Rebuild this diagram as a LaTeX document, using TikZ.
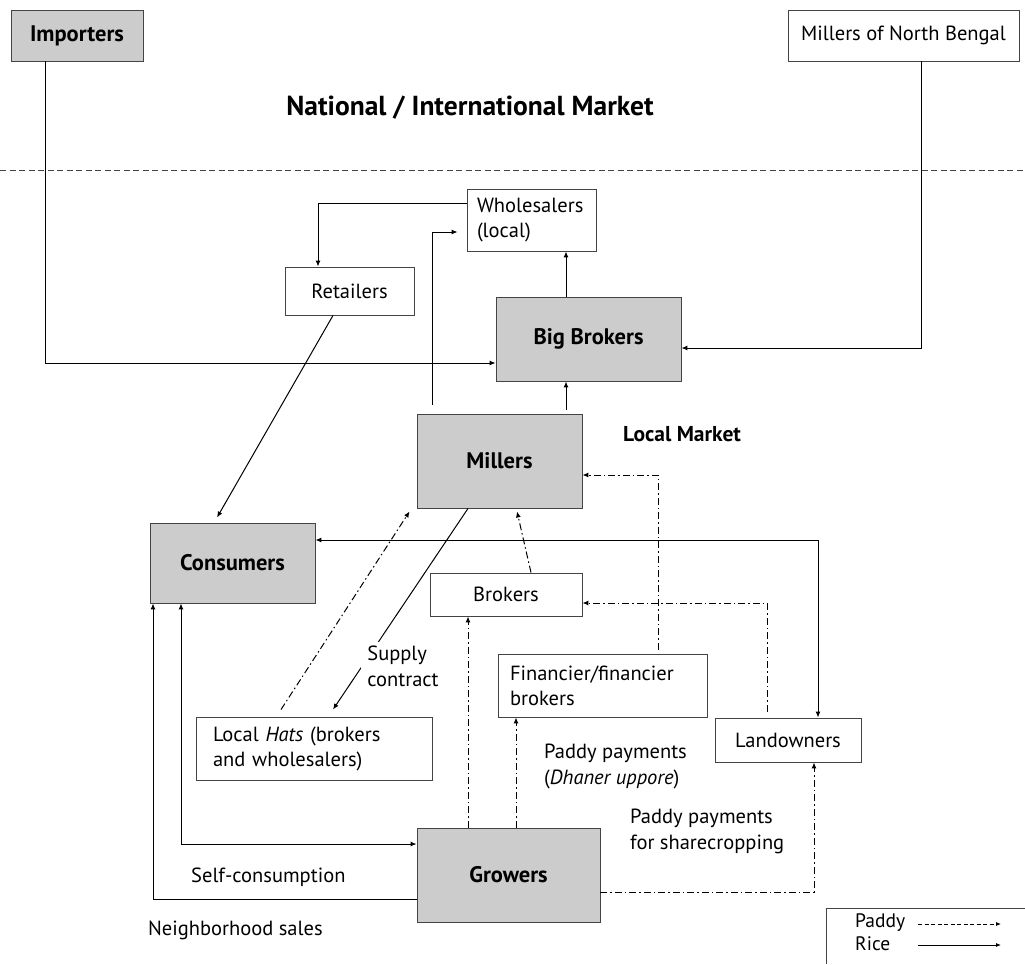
\documentclass[tikz,border=0pt]{standalone}
\usepackage{fontspec}
\setmainfont{PT Sans}
\usetikzlibrary{arrows.meta,calc}
\definecolor{fillgray}{HTML}{CCCCCC}
\definecolor{boxline}{HTML}{444444}
\begin{document}
\begin{tikzpicture}[x=1pt,y=-1pt,
  box/.style={draw=boxline, line width=0.9pt, fill=white, inner sep=0pt, font=\fontsize{20.5}{25}\selectfont},
  gbox/.style={box, fill=fillgray, font=\fontsize{22.5}{27}\selectfont\bfseries},
  lbl/.style={inner sep=0pt, font=\fontsize{20.5}{26}\selectfont, align=left},
  rice/.style={line width=1pt, -{Latex[length=6pt,width=5pt]}},
  riceboth/.style={line width=1pt, {Latex[length=6pt,width=5pt]}-{Latex[length=6pt,width=5pt]}},
  paddy/.style={rice, dash pattern=on 7pt off 3pt on 1.5pt off 3pt},
]
\useasboundingbox (0,0) rectangle (1025,964);

% market boundary
\draw[line width=1pt, boxline, dash pattern=on 6pt off 3.5pt] (0,170) -- (1025,170);
\node[inner sep=0pt, font=\fontsize{27.5}{32}\selectfont\bfseries] (natl) at (470,108) {National / International Market};
\node[inner sep=0pt, anchor=west, font=\fontsize{21.5}{26}\selectfont\bfseries] (locm) at (623,434) {Local Market};

% nodes
\node[gbox, minimum width=132, minimum height=51] (imp) at (77,35.5) {Importers};
\node[box, minimum width=231, minimum height=51] (mnb) at (903.5,35.5) {Millers of North Bengal};
\node[box, minimum width=129, minimum height=62, text width=109, inner xsep=10, align=left] (whole) at (531.5,220) {Wholesalers\\(local)};
\node[box, minimum width=129, minimum height=48] (ret) at (349.5,291) {Retailers};
\node[gbox, minimum width=185, minimum height=84] (bb) at (588.5,339) {Big Brokers};
\node[gbox, minimum width=165, minimum height=94] (mill) at (499.5,461) {Millers};
\node[gbox, minimum width=165, minimum height=80] (cons) at (232.5,563) {Consumers};
\node[box, minimum width=152, minimum height=43] (brok) at (506,594.5) {Brokers};
\node[box, minimum width=209, minimum height=63, text width=185, inner xsep=0, align=left] (fin) at (602.5,685.5) {Financier/financier\\brokers};
\node[box, minimum width=146, minimum height=44] (land) at (788,740) {Landowners};
\node[box, minimum width=236, minimum height=63, text width=202, inner xsep=0, align=left] (hats) at (314,748.5) {Local \emph{Hats} (brokers\\and wholesalers)};
\node[gbox, minimum width=183, minimum height=94] (grow) at (508.5,875) {Growers};

% rice flows
\draw[rice] ([xshift=-32pt]imp.south) |- ([yshift=-24pt]bb.west);
\draw[rice] ([xshift=18pt]mnb.south) |- ([yshift=-9pt]bb.east);
\draw[rice] ([yshift=17pt]whole.west) -| ([xshift=-31.5pt]ret.north);
\draw[rice] ([xshift=-67.5pt,yshift=9pt]mill.north) |- ([xshift=-9pt,yshift=-12pt]whole.west);
\draw[rice] ([xshift=-22.5pt]bb.north) -- ([xshift=-22.5pt]bb.north |- whole.south);
\draw[rice] ([xshift=66.5pt,yshift=4pt]mill.north) -- ([xshift=66.5pt]mill.north |- bb.south);
\draw[rice] ([xshift=-16.5pt]ret.south) -- ([xshift=-15.5pt,yshift=5pt]cons.north);
\draw[riceboth] ([yshift=23pt]cons.east) -| ([xshift=30pt]land.north);
\draw[rice] ([xshift=-31.5pt]mill.south) -- ([xshift=19pt,yshift=7pt]hats.north);
\node[lbl, fill=white, inner xsep=6pt, inner ysep=4pt] (sc) at (403,666) {Supply\\contract};
\draw[riceboth] ([xshift=-51.5pt]cons.south) |- ([yshift=31pt]grow.west);
\draw[rice] ([yshift=-24pt]grow.west) -| ([xshift=-79.5pt]cons.south);

% paddy flows
\draw[paddy] ([xshift=-33pt,yshift=7pt]hats.north) -- ([xshift=-7pt,yshift=-3pt]mill.south west);
\draw[paddy] ([xshift=25pt]brok.north) -- ([xshift=17.5pt,yshift=-3pt]mill.south);
\draw[paddy] ([xshift=55.5pt,yshift=4pt]fin.north) |- ([yshift=-14pt]mill.east);
\draw[paddy] ([xshift=-21pt,yshift=6pt]land.north) |- ([yshift=-8.5pt]brok.east);
\draw[paddy] ([xshift=-40.5pt]grow.north) -- ([xshift=-40.5pt]grow.north |- brok.south);
\draw[paddy] ([xshift=7.5pt]grow.north) -- ([xshift=7.5pt]grow.north |- fin.south);
\draw[paddy] ([yshift=-17pt]grow.east) -| ([xshift=26pt]land.south);

% labels
\node[lbl, anchor=west] (pp1) at (544,766) {Paddy payments\\(\emph{Dhaner uppore})};
\node[lbl, anchor=west] (pp2) at (630,831) {Paddy payments\\for sharecropping};
\node[lbl, anchor=west] (selfc) at (191,877) {Self-consumption};
\node[lbl, anchor=west] (nbs) at (148,930) {Neighborhood sales};

% legend
\draw[line width=0.9pt, boxline] (1025,908) -- (826,908) -- (826,964);
\node[lbl, anchor=west, font=\fontsize{19.5}{24}\selectfont] (lp) at (855,923) {Paddy};
\node[lbl, anchor=west, font=\fontsize{19.5}{24}\selectfont] (lr) at (855,944) {Rice};
\coordinate (lp1) at (918,924);
\coordinate (lp2) at (1001,924);
\coordinate (lr1) at (918,945);
\coordinate (lr2) at (1001,945);
\draw[line width=0.8pt, -{Latex[length=5pt,width=4pt]}, dash pattern=on 4pt off 2.5pt] (lp1) -- (lp2);
\draw[line width=0.8pt, -{Latex[length=5pt,width=4pt]}] (lr1) -- (lr2);
\end{tikzpicture}
\end{document}
